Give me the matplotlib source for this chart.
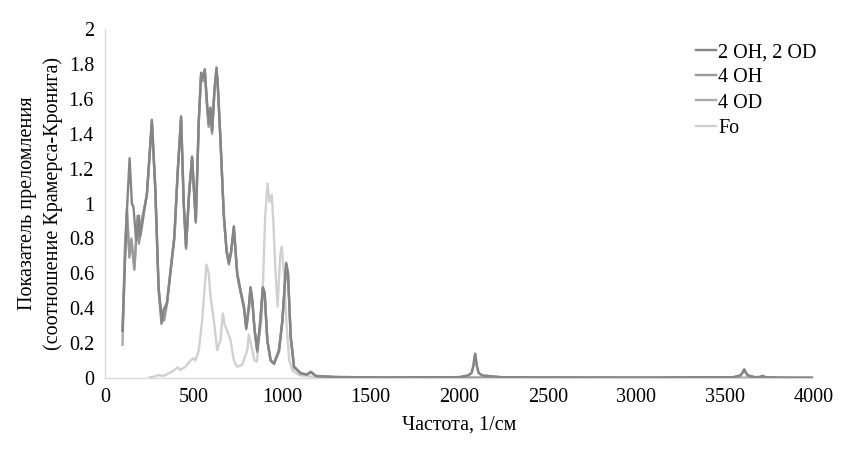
import matplotlib
matplotlib.use("Agg")
import matplotlib.pyplot as plt
from matplotlib.ticker import FuncFormatter, MultipleLocator

plt.rcParams['font.family'] = ['Liberation Serif', 'DejaVu Serif']

# ---- data ----
x_2oh2od = [98, 123, 138, 151, 160, 175, 191, 198, 208, 236, 264, 283, 302, 321, 330, 349,
            372, 391, 410, 429, 444, 457, 474, 491, 512, 529, 542, 551, 563, 576, 585, 595,
            604, 617, 629, 636, 651, 670, 686, 699, 712, 727, 746, 765, 784, 797, 812, 821,
            831, 844, 859, 874, 891, 901, 916, 935, 954, 982, 1001, 1023, 1033, 1048, 1067,
            1105, 1140, 1162, 1190, 1300, 1600, 2000, 2050, 2070, 2080, 2085, 2090, 2095,
            2100, 2110, 2130, 2250, 3000, 3550, 3590, 3600, 3610, 3620, 3630, 3670, 3700,
            3714, 3730, 3800, 4000]
y_2oh2od = [0.27, 0.96, 1.26, 1.00, 0.98, 0.79, 0.93, 0.81, 0.87, 1.06, 1.48, 1.10, 0.52, 0.32,
            0.39, 0.43, 0.64, 0.81, 1.19, 1.50, 1.00, 0.75, 1.06, 1.27, 0.90, 1.48, 1.75, 1.72,
            1.77, 1.57, 1.46, 1.55, 1.42, 1.65, 1.78, 1.69, 1.38, 0.94, 0.73, 0.66, 0.73, 0.87,
            0.60, 0.50, 0.41, 0.285, 0.41, 0.52, 0.45, 0.28, 0.16, 0.30, 0.52, 0.49, 0.22, 0.10,
            0.084, 0.16, 0.33, 0.66, 0.60, 0.24, 0.065, 0.027, 0.02, 0.036, 0.012, 0.006, 0.003,
            0.005, 0.015, 0.03, 0.07, 0.11, 0.14, 0.11, 0.07, 0.03, 0.015, 0.004, 0.002, 0.005,
            0.015, 0.03, 0.05, 0.03, 0.015, 0.005, 0.006, 0.013, 0.005, 0.002, 0.001]

x_4oh = [98, 112, 123, 137, 148, 165, 183, 191, 200, 236, 264, 283, 302, 318, 325, 333, 349,
         372, 391, 410, 429, 444, 457, 474, 491, 512, 529, 542, 551, 563, 576, 585, 595, 604,
         617, 629, 636, 651, 670, 686, 699, 712, 727, 746, 765, 784, 797, 812, 821, 831, 844,
         859, 874, 891, 901, 916, 935, 954, 982, 1001, 1023, 1033, 1048, 1067, 1105, 1140,
         1162, 1190, 1300, 1600, 3000, 3550, 3590, 3600, 3610, 3620, 3630, 3670, 3700, 3714,
         3730, 3800, 4000]
y_4oh = [0.27, 0.75, 0.97, 0.69, 0.79, 0.62, 0.93, 0.77, 0.87, 1.05, 1.47, 1.08, 0.50, 0.31,
         0.36, 0.33, 0.42, 0.63, 0.80, 1.18, 1.49, 0.99, 0.74, 1.05, 1.26, 0.89, 1.47, 1.74,
         1.70, 1.76, 1.55, 1.44, 1.53, 1.40, 1.64, 1.77, 1.68, 1.37, 0.93, 0.72, 0.65, 0.72,
         0.86, 0.59, 0.49, 0.40, 0.28, 0.40, 0.51, 0.44, 0.27, 0.15, 0.29, 0.51, 0.48, 0.21,
         0.10, 0.08, 0.15, 0.32, 0.65, 0.59, 0.23, 0.06, 0.025, 0.02, 0.034, 0.011, 0.005,
         0.003, 0.002, 0.005, 0.015, 0.03, 0.048, 0.03, 0.015, 0.005, 0.006, 0.012, 0.005,
         0.002, 0.001]

x_4od = [98, 112, 123, 137, 148, 165, 183, 191, 200, 236, 264, 283, 302, 321, 330, 349, 372,
         391, 410, 429, 444, 457, 474, 491, 512, 529, 542, 551, 563, 576, 585, 595, 604, 617,
         629, 636, 651, 670, 686, 699, 712, 727, 746, 765, 784, 797, 812, 821, 831, 844, 859,
         874, 891, 901, 916, 935, 954, 982, 1001, 1023, 1033, 1048, 1067, 1105, 1140, 1162,
         1190, 1300, 1600, 2000, 2050, 2070, 2080, 2085, 2090, 2095, 2100, 2110, 2130, 2250,
         4000]
y_4od = [0.19, 0.70, 0.95, 0.71, 0.80, 0.64, 0.91, 0.78, 0.86, 1.05, 1.46, 1.09, 0.51, 0.33,
         0.38, 0.43, 0.64, 0.81, 1.18, 1.48, 1.00, 0.76, 1.05, 1.26, 0.90, 1.47, 1.73, 1.71,
         1.75, 1.56, 1.45, 1.54, 1.41, 1.63, 1.76, 1.68, 1.37, 0.94, 0.73, 0.66, 0.73, 0.86,
         0.60, 0.50, 0.41, 0.29, 0.41, 0.52, 0.45, 0.28, 0.16, 0.30, 0.52, 0.49, 0.22, 0.10,
         0.085, 0.16, 0.33, 0.65, 0.60, 0.24, 0.065, 0.027, 0.02, 0.035, 0.012, 0.006, 0.003,
         0.005, 0.014, 0.028, 0.065, 0.10, 0.13, 0.10, 0.065, 0.028, 0.014, 0.004, 0.001]

x_fo = [250, 274, 302, 330, 378, 410, 425, 453, 482, 500, 510, 529, 548, 572, 585, 595, 614,
        633, 652, 665, 674, 689, 708, 727, 746, 774, 803, 812, 831, 844, 857, 869, 885, 904,
        917, 928, 941, 950, 960, 974, 989, 998, 1010, 1025, 1040, 1060, 1100, 1200, 1500, 4000]
y_fo = [0.003, 0.007, 0.017, 0.012, 0.036, 0.061, 0.046, 0.065, 0.10, 0.113, 0.10, 0.16, 0.33,
        0.65, 0.60, 0.47, 0.33, 0.16, 0.22, 0.37, 0.31, 0.27, 0.22, 0.10, 0.065, 0.075, 0.16,
        0.25, 0.16, 0.10, 0.093, 0.22, 0.35, 0.92, 1.116, 1.01, 1.05, 0.90, 0.657, 0.41, 0.70,
        0.752, 0.60, 0.30, 0.10, 0.04, 0.015, 0.005, 0.002, 0.001]

labels = ["2 OH, 2 OD", "4 OH", "4 OD", "Fo"]
x_ticks = [0, 500, 1000, 1500, 2000, 2500, 3000, 3500, 4000]

FS = 14.5

# ---- figure ----
fig = plt.figure(figsize=(8.48, 4.61), dpi=100)
ax = fig.add_axes([0.124, 0.18, 0.835, 0.757])

ax.plot(x_fo, y_fo, color="#d0d0d0", lw=1.7, label=labels[3], zorder=2,
        solid_joinstyle="round")
ax.plot(x_4od, y_4od, color="#ababab", lw=1.7, label=labels[2], zorder=3,
        solid_joinstyle="round")
ax.plot(x_4oh, y_4oh, color="#999999", lw=1.7, label=labels[1], zorder=4,
        solid_joinstyle="round")
ax.plot(x_2oh2od, y_2oh2od, color="#858585", lw=1.7, label=labels[0], zorder=5,
        solid_joinstyle="round")

ax.set_xlim(0, 4000)
ax.set_ylim(0, 2)
ax.set_xticks(x_ticks)
ax.yaxis.set_major_locator(MultipleLocator(0.2))
ax.yaxis.set_major_formatter(FuncFormatter(lambda v, p: f"{v:g}"))
ax.tick_params(axis="both", length=0, labelsize=FS, colors="#000000")
ax.tick_params(axis="x", pad=7)
ax.tick_params(axis="y", pad=8)

for s in ["top", "right"]:
    ax.spines[s].set_visible(False)
for s in ["left", "bottom"]:
    ax.spines[s].set_color("#d9d9d9")
    ax.spines[s].set_linewidth(1.0)

ax.set_xlabel("Частота, 1/см", fontsize=FS, labelpad=6)
ax.set_ylabel("Показатель преломления\n(соотношение Крамерса-Кронига)", fontsize=FS,
              labelpad=4, linespacing=1.45)

h, l = ax.get_legend_handles_labels()
order = [3, 2, 1, 0]
ax.legend([h[i] for i in order], [l[i] for i in order], loc="upper left",
          bbox_to_anchor=(0.815, 1.0), frameon=False, fontsize=FS,
          handlelength=1.0, handletextpad=0.1, labelspacing=0.3, borderpad=0.2)

fig.savefig("out.png", dpi=100)
